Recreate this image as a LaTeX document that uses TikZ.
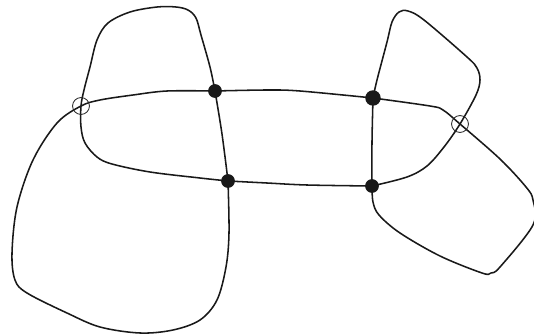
\documentclass[tikz,border=0pt]{standalone}
\usepackage{tikz}
\usetikzlibrary{positioning}

\begin{document}
\begin{tikzpicture}[
  x=0.025cm, y=-0.025cm,
  vertex/.style={circle, fill=black!90, inner sep=0pt, minimum size=9.8pt},
  crossing/.style={circle, draw=black!85, line width=0.6pt, inner sep=0pt, minimum size=12pt},
  strand/.style={draw=black!90, line width=1.1pt, smooth, tension=0.55}
]
\useasboundingbox (0,0) rectangle (534,335);

\coordinate (xl) at (81,106);
\coordinate (xr) at (460,124);

\node[vertex] (a) at (215,91) {};
\node[vertex, minimum size=11pt] (b) at (373,98) {};
\node[vertex] (c) at (228,181) {};
\node[vertex] (d) at (372,186) {};

% left side
\draw[strand] plot coordinates {(a.center) (210,67) (201,35) (196,18) (188,10) (176,7) (157,7) (130,12) (108,23) (97,40) (90,67) (84,90) (xl) (81,127) (85,143) (97,157) (112,164) (150,172) (200,178) (c.center)};
\draw[strand] plot coordinates {(a.center) (167,91) (133,95) (100,100) (xl) (57,123) (33,160) (17,207) (12,253) (15,280) (27,293) (67,313) (100,327) (140,333) (173,330) (200,320) (217,300) (226,267) (229,233) (c.center)};
\draw[strand] plot coordinates {(a.center) (222,134) (c.center)};

% middle
\draw[strand] plot coordinates {(a.center) (267,90) (300,91) (b.center)};
\draw[strand] plot coordinates {(c.center) (267,183) (307,185) (d.center)};
\draw[strand] plot coordinates {(b.center) (372,142) (d.center)};

% right side
\draw[strand] plot coordinates {(b.center) (377,80) (387,42) (392,22) (399,12) (408,11) (424,20) (467,57) (477,68) (480,80) (476,95) (xr) (444,147) (427,166) (407,177) (d.center)};
\draw[strand] plot coordinates {(b.center) (430,106) (443,110) (xr) (500,159) (526,187) (533,200) (533,225) (500,267) (491,273) (482,273) (440,256) (400,233) (379,215) (373,202) (d.center)};

\node[crossing] (xlc) at (xl) {};
\node[crossing] (xrc) at (xr) {};
\end{tikzpicture}
\end{document}
